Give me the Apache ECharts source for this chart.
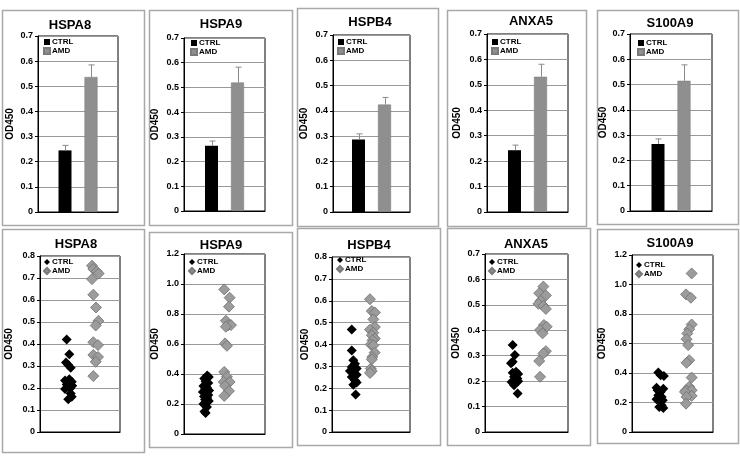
<!DOCTYPE html>
<html><head><meta charset="utf-8">
<script src="https://cdn.jsdelivr.net/npm/echarts@6/dist/echarts.min.js"></script>
<style>html,body{margin:0;padding:0;background:#fff}#c{width:740px;height:460px}</style>
</head><body><div id="c"></div>
<script>
// ---------- DATA ----------
const genes = ['HSPA8', 'HSPA9', 'HSPB4', 'ANXA5', 'S100A9'];
const groups = ['CTRL', 'AMD'];

// top row: mean OD450 with upper error (SEM)
const barCtrlMean = [0.245, 0.264, 0.287, 0.243, 0.265];
const barCtrlErr  = [0.020, 0.019, 0.022, 0.020, 0.020];
const barAmdMean  = [0.537, 0.520, 0.425, 0.532, 0.515];
const barAmdErr   = [0.048, 0.062, 0.028, 0.049, 0.063];
const barYMax = [0.7, 0.7, 0.7, 0.7, 0.7];
const barYStep = [0.1, 0.1, 0.1, 0.1, 0.1];

// bottom row: individual OD450 values (y) and horizontal jitter (x, 0..3 scale)
const scYMax = [0.8, 1.2, 0.8, 0.7, 1.2];
const scYStep = [0.1, 0.2, 0.1, 0.1, 0.2];

const ctrlHSPA8 = [0.42, 0.353, 0.316, 0.304, 0.292, 0.24, 0.234, 0.228, 0.216, 0.21, 0.198, 0.195, 0.175, 0.16, 0.149];
const ctrlHSPA8X = [1.0, 1.1, 0.975, 1.06, 1.15, 1.1, 0.94, 1.19, 1.0, 1.21, 1.125, 0.94, 1.15, 1.19, 1.06];
const amdHSPA8 = [0.756, 0.741, 0.73, 0.72, 0.695, 0.624, 0.566, 0.505, 0.484, 0.408, 0.395, 0.35, 0.341, 0.319, 0.254];
const amdHSPA8X = [1.95, 2.0, 2.125, 2.2, 1.95, 2.0, 2.1, 2.19, 2.09, 2.0, 2.175, 2.0, 2.175, 2.09, 2.0];

const ctrlHSPA9 = [0.39, 0.38, 0.37, 0.35, 0.34, 0.32, 0.31, 0.30, 0.29, 0.28, 0.27, 0.26, 0.25, 0.24, 0.23, 0.22, 0.20, 0.18, 0.15, 0.14];
const ctrlHSPA9X = [0.86, 0.92, 0.75, 0.8, 0.9, 0.72, 0.85, 0.78, 0.93, 0.7, 0.82, 0.9, 0.74, 0.86, 0.78, 0.92, 0.72, 0.85, 0.76, 0.8];
const amdHSPA9 = [0.964, 0.909, 0.849, 0.755, 0.726, 0.726, 0.715, 0.604, 0.588, 0.414, 0.381, 0.347, 0.347, 0.321, 0.287, 0.254];
const amdHSPA9X = [1.49, 1.69, 1.665, 1.55, 1.64, 1.74, 1.55, 1.52, 1.59, 1.49, 1.59, 1.47, 1.69, 1.52, 1.665, 1.49];

const ctrlHSPB4 = [0.469, 0.373, 0.328, 0.312, 0.297, 0.29, 0.279, 0.274, 0.262, 0.251, 0.236, 0.226, 0.216, 0.171];
const ctrlHSPB4X = [0.76, 0.76, 0.82, 0.885, 0.76, 0.95, 0.69, 0.82, 0.95, 0.76, 0.885, 0.95, 0.82, 0.91];
const amdHSPB4 = [0.607, 0.553, 0.546, 0.515, 0.48, 0.468, 0.454, 0.442, 0.427, 0.419, 0.40, 0.396, 0.363, 0.343, 0.332, 0.29, 0.279, 0.27];
const amdHSPB4X = [1.46, 1.53, 1.65, 1.59, 1.65, 1.46, 1.59, 1.53, 1.65, 1.56, 1.49, 1.59, 1.64, 1.55, 1.53, 1.49, 1.53, 1.46];

const ctrlANXA5 = [0.342, 0.303, 0.276, 0.27, 0.237, 0.233, 0.228, 0.217, 0.21, 0.2, 0.197, 0.191, 0.184, 0.151];
const ctrlANXA5X = [1.0, 1.08, 1.0, 0.94, 1.12, 1.0, 1.2, 1.05, 1.17, 1.2, 0.96, 1.08, 1.05, 1.18];
const amdANXA5 = [0.572, 0.546, 0.537, 0.516, 0.504, 0.496, 0.484, 0.421, 0.414, 0.401, 0.388, 0.318, 0.309, 0.279, 0.217];
const amdANXA5X = [2.11, 1.96, 2.2, 2.01, 1.93, 2.11, 2.2, 2.13, 2.23, 1.99, 2.08, 2.2, 2.11, 1.96, 1.99];

const ctrlS100A9 = [0.403, 0.385, 0.38, 0.30, 0.294, 0.283, 0.272, 0.249, 0.238, 0.222, 0.215, 0.208, 0.181, 0.17, 0.163];
const ctrlS100A9X = [0.975, 1.06, 1.18, 0.91, 1.16, 0.95, 1.06, 0.975, 1.1, 0.91, 1.14, 1.04, 1.1, 1.01, 1.16];
const amdS100A9 = [1.075, 0.933, 0.91, 0.729, 0.697, 0.668, 0.629, 0.589, 0.487, 0.469, 0.369, 0.306, 0.283, 0.283, 0.272, 0.245, 0.238, 0.192];
const amdS100A9X = [2.21, 2.0, 2.18, 2.21, 2.12, 2.05, 2.02, 2.08, 2.12, 2.02, 2.21, 2.12, 2.0, 2.21, 1.96, 2.21, 2.02, 2.0];

const scCtrl = [ctrlHSPA8, ctrlHSPA9, ctrlHSPB4, ctrlANXA5, ctrlS100A9];
const scCtrlX = [ctrlHSPA8X, ctrlHSPA9X, ctrlHSPB4X, ctrlANXA5X, ctrlS100A9X];
const scAmd = [amdHSPA8, amdHSPA9, amdHSPB4, amdANXA5, amdS100A9];
const scAmdX = [amdHSPA8X, amdHSPA9X, amdHSPB4X, amdANXA5X, amdS100A9X];

// ---------- LAYOUT ----------
const boxes = [
  [2, 10, 142, 215], [149, 10, 143, 215], [297, 8, 141, 218], [447, 10, 139, 216], [597, 10, 141, 214],
  [2, 229, 142, 223], [149, 232, 143, 215], [297, 228, 143, 217], [447, 228, 143, 217], [597, 229, 141, 214]
];
const grids = [
  [38, 36, 80, 176], [184, 38, 81, 173], [333, 35, 77, 177], [487, 34, 81, 178], [630, 34, 82, 177],
  [40, 256, 80, 176], [184, 254, 81, 180], [332, 257, 78, 175], [485, 254, 83, 178], [632, 255, 81, 177]
];
const titlePos = [
  [70, 19], [221, 18], [370, 16], [531, 15], [670, 17],
  [76, 238], [221, 239], [369, 239], [526, 238], [670, 237]
];
const legendPos = [
  [43, 38], [190, 39], [337, 38], [491, 38], [637, 39],
  [43, 258], [188, 258], [336, 256], [488, 258], [635, 261]
];
const nameGaps = [23, 24, 24, 25, 22, 26, 24, 22, 24, 25];

const FONT = 'Liberation Sans, Arial, sans-serif';
const BAR_W = 13;
const AMD_BAR = '#8f8f8f';
const AMD_PT = '#9c9c9c';

const option = {
  animation: false,
  backgroundColor: '#fff',
  title: [], legend: [], grid: [], xAxis: [], yAxis: [], series: [],
  graphic: boxes.map(b => ({
    type: 'rect', shape: {x: b[0] + 0.5, y: b[1] + 0.5, width: b[2], height: b[3]},
    style: {fill: 'none', stroke: '#a9a9a9', lineWidth: 1.5}, z: 0, silent: true
  }))
};

for (let i = 0; i < 10; i++) {
  const top = i < 5;
  const k = i % 5;
  const g = grids[i];
  option.grid.push({left: g[0], top: g[1], width: g[2], height: g[3], show: true,
    borderColor: '#000', borderWidth: 1, backgroundColor: 'transparent', containLabel: false});
  option.title.push({text: genes[k], left: titlePos[i][0], top: titlePos[i][1], textAlign: 'center', padding: 0,
    textStyle: {fontFamily: FONT, fontWeight: 'bold', fontSize: 13, color: '#000'}});
  option.legend.push({
    left: legendPos[i][0], top: legendPos[i][1], orient: 'vertical', itemWidth: 6, itemHeight: 6,
    itemGap: 1, padding: 0, selectedMode: false,
    data: groups.map(n => ({name: n, icon: top ? 'rect' : 'diamond'})),
    textStyle: {fontFamily: FONT, fontWeight: 'bold', fontSize: 8, color: '#000', padding: [0, 0, 0, -3]}
  });
  const ymax = top ? barYMax[k] : scYMax[k];
  const ystep = top ? barYStep[k] : scYStep[k];
  option.yAxis.push({
    type: 'value', gridIndex: i, min: 0, max: ymax, interval: ystep,
    name: 'OD450', nameLocation: 'middle', nameRotate: 90, nameGap: nameGaps[i],
    nameTextStyle: {fontFamily: FONT, fontWeight: 'bold', fontSize: 10, color: '#000'},
    axisLine: {show: true, lineStyle: {color: '#000', width: 1}},
    axisTick: {show: true, length: 3, lineStyle: {color: '#000'}},
    axisLabel: {fontFamily: FONT, fontWeight: 'bold', fontSize: 9, color: '#000', margin: 5,
      formatter: v => v === 0 ? '0' : v.toFixed(1)},
    splitLine: {show: true, lineStyle: {color: '#9a9a9a', width: 1.2}}
  });
  if (top) {
    option.xAxis.push({type: 'category', gridIndex: i, data: [''],
      axisLine: {show: true, lineStyle: {color: '#000'}}, axisTick: {show: false}, axisLabel: {show: false}});
    option.series.push({name: 'CTRL', type: 'bar', xAxisIndex: i, yAxisIndex: i, barWidth: BAR_W, barGap: '100%',
      data: [barCtrlMean[k]], itemStyle: {color: '#000'}, z: 2});
    option.series.push({name: 'AMD', type: 'bar', xAxisIndex: i, yAxisIndex: i, barWidth: BAR_W, barGap: '100%',
      data: [barAmdMean[k]], itemStyle: {color: AMD_BAR, borderColor: '#7a7a7a', borderWidth: 0.5}, z: 2});
    option.series.push({
      type: 'custom', xAxisIndex: i, yAxisIndex: i, silent: true, z: 3,
      data: [[0, barCtrlMean[k], barCtrlErr[k], -1], [0, barAmdMean[k], barAmdErr[k], 1]],
      renderItem: (params, api) => {
        const base = api.coord([api.value(0), api.value(1)]);
        const tip = api.coord([api.value(0), api.value(1) + api.value(2)]);
        const x = Math.round(base[0] + api.value(3) * BAR_W) + 0.5;
        return {type: 'group', children: [
          {type: 'line', shape: {x1: x, y1: base[1], x2: x, y2: tip[1]}, style: {stroke: '#8a8a8a', lineWidth: 1}},
          {type: 'line', shape: {x1: x - 3, y1: tip[1], x2: x + 3, y2: tip[1]}, style: {stroke: '#8a8a8a', lineWidth: 1}}
        ]};
      }
    });
  } else {
    option.xAxis.push({type: 'value', gridIndex: i, min: 0, max: 3,
      axisLine: {show: true, lineStyle: {color: '#000'}}, axisTick: {show: false}, axisLabel: {show: false},
      splitLine: {show: false}});
    option.series.push({name: 'CTRL', type: 'scatter', xAxisIndex: i, yAxisIndex: i, symbol: 'diamond',
      symbolSize: 10, data: scCtrl[k].map((v, j) => [scCtrlX[k][j], v]),
      itemStyle: {color: '#000', opacity: 1}, z: 3});
    option.series.push({name: 'AMD', type: 'scatter', xAxisIndex: i, yAxisIndex: i, symbol: 'diamond',
      symbolSize: 11, data: scAmd[k].map((v, j) => [scAmdX[k][j], v]),
      itemStyle: {color: AMD_PT, borderColor: '#6f6f6f', borderWidth: 0.8, opacity: 1}, z: 3});
  }
}

const chart = echarts.init(document.getElementById('c'), null, {renderer: 'canvas'});
chart.setOption(option);
</script>
</body></html>
